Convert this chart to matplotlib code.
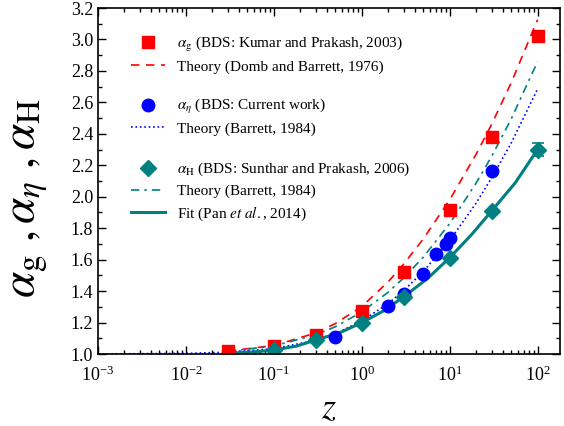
import numpy as np
import matplotlib
matplotlib.use("Agg")
import matplotlib.pyplot as plt
from matplotlib.ticker import LogLocator, MultipleLocator, NullFormatter
from matplotlib.lines import Line2D

plt.rcParams['font.family'] = ['Liberation Serif', 'DejaVu Serif']
plt.rcParams['mathtext.fontset'] = 'stix'

# BDS data
zG = [0.03, 0.1, 0.3, 1, 3, 10, 30, 100]
alphaG = [1.02, 1.05, 1.12, 1.275, 1.52, 1.915, 2.38, 3.02]

zEta = [0.5, 2, 3, 5, 7, 9, 10, 30]
alphaEta = [1.11, 1.305, 1.38, 1.51, 1.635, 1.70, 1.735, 2.165]

zH = [0.1, 0.3, 1, 3, 10, 30, 100]
alphaH = [1.025, 1.089, 1.20, 1.365, 1.612, 1.91, 2.30]
errH = [0, 0, 0, 0, 0, 0, 0.04]

# theory / fit curves
zTh = [0.03, 0.1, 0.3, 0.5, 1, 2, 3, 5, 10, 20, 30, 50, 100]
thG = [1.018, 1.054, 1.134, 1.193, 1.302, 1.459, 1.572, 1.731, 1.980, 2.270, 2.460, 2.723, 3.126]
thH = [1.017, 1.051, 1.122, 1.173, 1.267, 1.393, 1.484, 1.615, 1.829, 2.087, 2.256, 2.493, 2.859]

zThEta = [0.001, 0.01, 0.03, 0.1, 0.3, 0.5, 1, 2, 3, 5, 10, 20, 30, 50, 100]
thEta = [1.0004, 1.004, 1.011, 1.034, 1.087, 1.129, 1.210, 1.321, 1.403, 1.524, 1.721, 1.959, 2.120, 2.340, 2.684]

zFit = [0.03, 0.056, 0.1, 0.18, 0.3, 0.56, 1, 1.78, 3, 5.6, 10, 17.8, 30, 56, 100]
fitH = [1.005, 1.012, 1.025, 1.05, 1.089, 1.135, 1.199, 1.275, 1.364, 1.48, 1.612, 1.76, 1.909, 2.09, 2.30]

red = '#ff0000'
blue = '#0000ff'
teal = '#008080'

fig = plt.figure(figsize=(5.64, 4.26), dpi=100)
ax = fig.add_axes([0.1738, 0.169, 0.8191, 0.8122])

ax.plot(zTh, thG, '--', color=red, lw=1.2, dashes=(5, 4))
ax.plot(zThEta, thEta, ':', color=blue, lw=1.2)
ax.plot(zTh, thH, '-.', color=teal, lw=1.2, dashes=(5, 3, 1.5, 3))
ax.plot(zFit, fitH, '-', color=teal, lw=2.2)

ax.plot(zG, alphaG, 's', color=red, ms=8, mec=red)
ax.plot(zEta, alphaEta, 'o', color=blue, ms=9, mec=blue)
ax.errorbar(zH, alphaH, yerr=errH, fmt='D', color=teal, ms=8, capsize=4, elinewidth=1.2, capthick=1.2)

ax.set_xscale('log')
ax.set_xlim(1e-3, 180)
ax.set_ylim(1.0, 3.2)
ax.xaxis.set_major_locator(LogLocator(base=10, numticks=10))
ax.xaxis.set_minor_locator(LogLocator(base=10, subs=np.arange(2, 10), numticks=20))
ax.xaxis.set_minor_formatter(NullFormatter())
ax.yaxis.set_major_locator(MultipleLocator(0.2))
ax.yaxis.set_minor_locator(MultipleLocator(0.1))
ax.yaxis.set_major_formatter(plt.FormatStrFormatter('%.1f'))

ax.tick_params(which='both', direction='in', top=True, right=True, labelsize=13, width=1)
ax.tick_params(which='major', length=6)
ax.tick_params(which='minor', length=3)
ax.tick_params(axis='x', which='major', pad=8)
for s in ax.spines.values():
    s.set_linewidth(1.2)

ax.set_xlabel(r'$z$', fontsize=26, labelpad=6)
ax.set_ylabel(r'$\alpha_{\rm g}\ ,\alpha_{\eta}\ ,\alpha_{\rm H}$', fontsize=34)
ax.yaxis.set_label_coords(-0.105, 0.45)

# legends in three groups
h1 = [Line2D([], [], ls='none', marker='s', color=red, ms=8),
      Line2D([], [], ls='--', color=red, lw=1.2, dashes=(5, 4))]
l1 = [r'$\alpha_{\rm g}$ (BDS: Kumar and Prakash, 2003)', 'Theory (Domb and Barrett, 1976)']
h2 = [Line2D([], [], ls='none', marker='o', color=blue, ms=9),
      Line2D([], [], ls=':', color=blue, lw=1.2)]
l2 = [r'$\alpha_{\eta}$ (BDS: Current work)', 'Theory (Barrett, 1984)']
h3 = [Line2D([], [], ls='none', marker='D', color=teal, ms=8),
      Line2D([], [], ls='-.', color=teal, lw=1.2, dashes=(5, 3, 1.5, 3)),
      Line2D([], [], ls='-', color=teal, lw=2.2)]
l3 = [r'$\alpha_{\rm H}$ (BDS: Sunthar and Prakash, 2006)', 'Theory (Barrett, 1984)',
      r'Fit (Pan $et\ al.$, 2014)']

kw = dict(frameon=False, fontsize=11, handlelength=2.2, handletextpad=0.8,
          labelspacing=0.4, borderpad=0, loc='upper left')
leg1 = ax.legend(h1, l1, bbox_to_anchor=(0.055, 0.945), **kw)
ax.add_artist(leg1)
leg2 = ax.legend(h2, l2, bbox_to_anchor=(0.055, 0.765), **kw)
ax.add_artist(leg2)
ax.legend(h3, l3, bbox_to_anchor=(0.055, 0.58), **kw)

fig.savefig('out.png', dpi=100)
